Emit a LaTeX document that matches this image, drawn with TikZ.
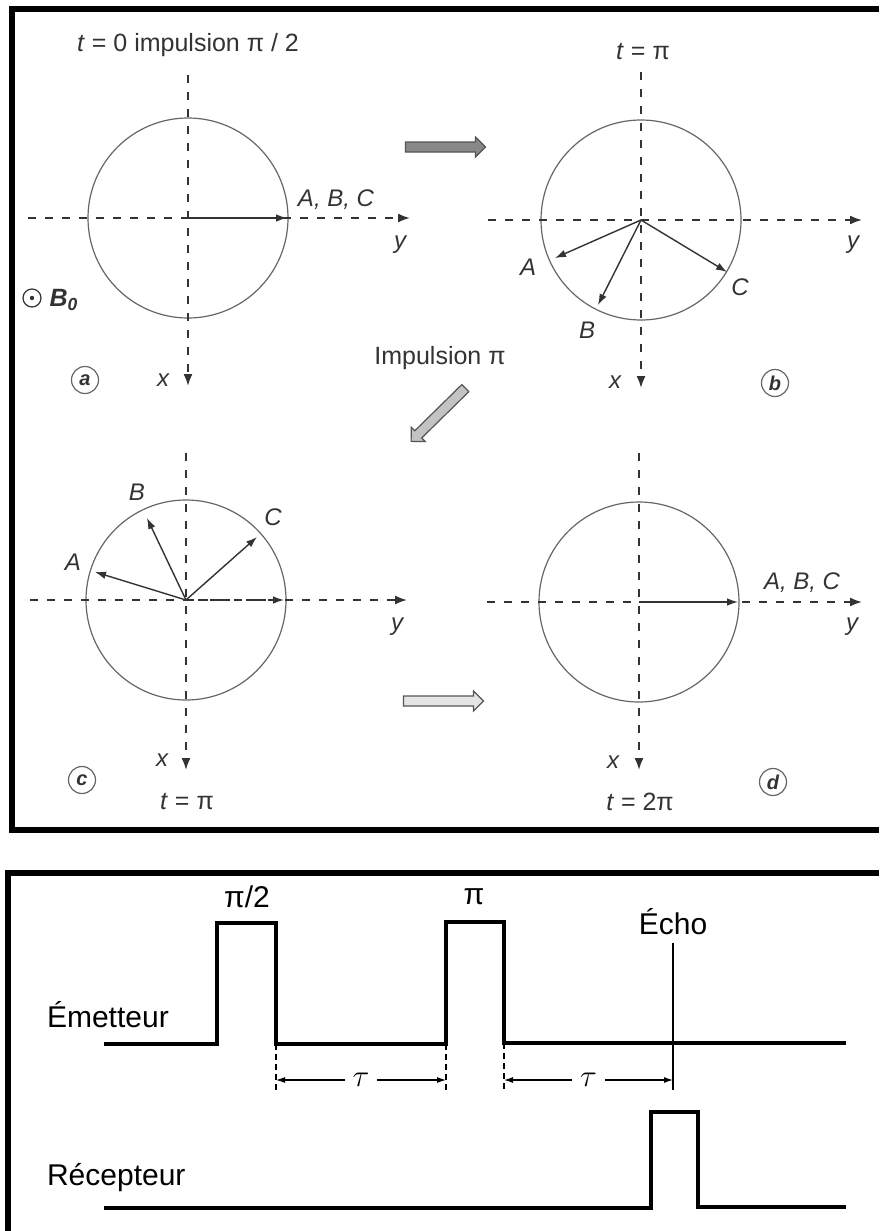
\documentclass[tikz,border=0pt]{standalone}
\usepackage{fontspec}
\setmainfont{Liberation Sans}
\usetikzlibrary{arrows.meta,shapes.arrows}

\begin{document}
\begin{tikzpicture}[x=0.5pt,y=-0.5pt,
  asse/.style={colAsse, line width=0.9pt, dash pattern=on 4pt off 4.5pt, -{Latex[length=6pt,width=4.5pt]}},
  cerchio/.style={colCerchio, line width=0.6pt},
  vettore/.style={colAsse, line width=0.7pt, -{Latex[length=5.5pt,width=3.8pt]}},
  lettera/.style={font=\fontsize{12}{14}\selectfont\itshape, text=colTesto},
  titolo/.style={font=\fontsize{12.5}{14}\selectfont, text=colTesto},
  etichetta/.style={circle, draw=colCerchio, line width=0.6pt, inner sep=0pt, minimum size=13.5pt, font=\fontsize{10}{11}\selectfont\bfseries\itshape, text=colTesto},
  freccia/.style={single arrow, draw=colFreccia, line width=0.6pt, inner sep=2.2pt, minimum height=40pt, single arrow head extend=2.5pt},
  segnale/.style={black, line width=2.2pt, line join=miter},
  quota/.style={black, line width=0.55pt},
  nome/.style={font=\fontsize{15}{17}\selectfont}]

% Colori
\definecolor{colAsse}{HTML}{333333}
\definecolor{colCerchio}{HTML}{666666}
\definecolor{colTesto}{HTML}{333333}
\definecolor{colFreccia}{HTML}{555555}

\useasboundingbox (0,0) rectangle (879,1231);
\fill[white] (0,0) rectangle (879,1231);

% Raggio dei cerchi
\def\rc{100}

% Cornici
\draw[line width=3pt, line join=miter] (879,9) -- (12,9) -- (12,830) -- (879,830);
\draw[line width=3pt, line join=miter] (879,873) -- (8,873) -- (8,1231);

% Pannello a
\coordinate (oa) at (188,218);
\draw[cerchio] (oa) circle[radius=\rc];
\draw[asse] (28,218) -- (410,218);
\draw[asse] (188,75) -- (188,386);
\draw[vettore] (oa) -- (287,218);
\node[titolo] (ta) at (188,45) {\textit{t} = 0 impulsion π / 2};
\node[lettera] (abca) at (336,200) {A, B, C};
\node[lettera] (ya) at (400,245) {y};
\node[lettera] (xa) at (163,380) {x};
\node[circle, draw=colAsse, line width=0.6pt, inner sep=0pt, minimum size=9pt] (bz) at (32,298) {};
\fill[colAsse] (bz) circle (1.1pt);
\node[lettera, font=\fontsize{12.5}{14}\selectfont\bfseries\itshape] (bzero) at (64,300) {B\textsubscript{0}};
\node[etichetta] (la) at (85,380) {a};

% Pannello b
\coordinate (ob) at (641,220);
\draw[cerchio] (ob) circle[radius=\rc];
\draw[asse] (488,220) -- (862,220);
\draw[asse] (641,72) -- (641,388);
\draw[vettore] (ob) -- (555,258);
\draw[vettore] (ob) -- (598,305);
\draw[vettore] (ob) -- (727,272);
\node[titolo] (tb) at (643,52) {\textit{t} = π};
\node[lettera] (ab) at (528,267) {A};
\node[lettera] (bb) at (587,330) {B};
\node[lettera] (cb) at (740,287) {C};
\node[lettera] (yb) at (853,245) {y};
\node[lettera] (xb) at (615,382) {x};
\node[etichetta] (lb) at (775,383) {b};

% Frecce fra i pannelli
\node[freccia, fill=colFreccia!70] (fab) at (443,147) {};
\node[titolo] (imp) at (440,358) {Impulsion π};
\node[freccia, fill=colFreccia!35, rotate=-135.5, minimum height=38pt] (fbc) at (440,413) {};
\node[freccia, fill=colFreccia!15] (fcd) at (441,701) {};

% Pannello c
\coordinate (oc) at (186,600);
\draw[cerchio] (oc) circle[radius=\rc];
\draw[asse] (30,600) -- (407,600);
\draw[asse] (186,453) -- (186,770);
\draw[vettore] (oc) -- (95,572);
\draw[vettore] (oc) -- (147,518);
\draw[vettore] (oc) -- (257,537);
\draw[vettore, dash pattern=on 4pt off 2pt] (oc) -- (284,600);
\node[lettera] (ac) at (73,562) {A};
\node[lettera] (bc) at (137,492) {B};
\node[lettera] (cc) at (273,517) {C};
\node[lettera] (yc) at (397,627) {y};
\node[lettera] (xc) at (162,760) {x};
\node[etichetta] (lc) at (82,780) {c};
\node[titolo] (tc) at (187,802) {\textit{t} = π};

% Pannello d
\coordinate (od) at (639,602);
\draw[cerchio] (od) circle[radius=\rc];
\draw[asse] (487,602) -- (862,602);
\draw[asse] (639,453) -- (639,770);
\draw[vettore] (od) -- (738,602);
\node[lettera] (abcd) at (802,583) {A, B, C};
\node[lettera] (yd) at (852,627) {y};
\node[lettera] (xd) at (613,762) {x};
\node[etichetta] (ld) at (773,782) {d};
\node[titolo] (td) at (640,802) {\textit{t} = 2π};

% Emettitore
\coordinate (e1) at (276,1044);
\coordinate (e2) at (446,1044);
\coordinate (e3) at (504,1043);
\coordinate (eco) at (673,943);
\draw[segnale] (104,1044) -- (217,1044) -- (217,923) -- (e1 |- 0,923) -- (e1) -- (e2) -- (446,922) -- (504,922) -- (e3) -- (846,1043);
\node[nome, anchor=west] (emet) at (40,1015) {Émetteur};
\node[nome] (p1) at (247,897) {π/2};
\node[nome] (p2) at (474,897) {π};
\node[nome] (ec) at (673,922) {Écho};

% Quote
\coordinate (q1) at (276,1080);
\coordinate (q2) at (446,1080);
\coordinate (q3) at (504,1080);
\coordinate (q4) at (673,1080);
\draw[quota] (eco) -- (673,1090);
\draw[quota, dash pattern=on 3pt off 2pt] (e1) -- (276,1090);
\draw[quota, dash pattern=on 3pt off 2pt] (e2) -- (446,1090);
\draw[quota, dash pattern=on 3pt off 2pt] (e3) -- (504,1090);
\draw[quota, {Latex[length=4.5pt,width=3pt]}-{Latex[length=4.5pt,width=3pt]}] (q1) -- node[fill=white, inner sep=4pt, font=\fontsize{13}{14}\selectfont] (tau1) {\scalebox{1.3}{$\tau$}} (q2);
\draw[quota, {Latex[length=4.5pt,width=3pt]}-{Latex[length=4.5pt,width=3pt]}] (q3) -- node[fill=white, inner sep=4pt, font=\fontsize{13}{14}\selectfont] (tau2) {\scalebox{1.3}{$\tau$}} (q4);

% Ricevitore
\draw[segnale] (104,1208) -- (651,1208) -- (651,1112) -- (698,1112) -- (698,1207) -- (846,1207);
\node[nome, anchor=west] (rec) at (40,1178) {Récepteur};
\end{tikzpicture}
\end{document}
